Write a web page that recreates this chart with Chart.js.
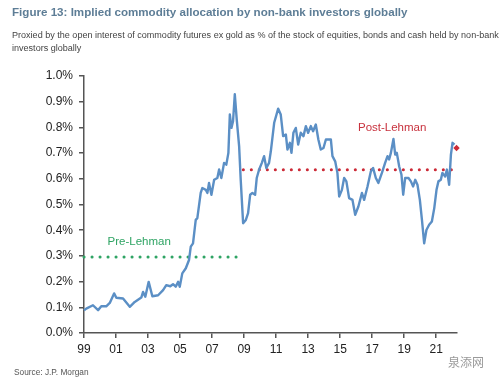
<!DOCTYPE html>
<html>
<head>
<meta charset="utf-8">
<script src="https://cdn.jsdelivr.net/npm/chart.js@4.4.1/dist/chart.umd.min.js"></script>
<style>
  html, body { margin: 0; padding: 0; background: #ffffff; }
  #wrap { position: relative; width: 500px; height: 382px; overflow: hidden; font-family: "Liberation Sans", Arial, sans-serif; }
  #c { position: absolute; left: 0; top: 0; }
  .t { position: absolute; white-space: nowrap; }
  #title { left: 12px; top: 5px; font-size: 11.6px; line-height: 14px; font-weight: bold; color: #5d7d96; }
  #sub { left: 12px; top: 29px; font-size: 9.05px; line-height: 13px; color: #444; }
  #src { left: 14px; top: 367px; font-size: 8.3px; line-height: 11px; color: #555; }
  #wm { left: 448px; top: 355px; font-size: 12px; line-height: 14px; color: #9a9a9a; font-family: "Noto Sans CJK SC", sans-serif; }
</style>
</head>
<body>
<div id="wrap">
  <canvas id="c" width="500" height="382"></canvas>
  <div class="t" id="title">Figure 13: Implied commodity allocation by non-bank investors globally</div>
  <div class="t" id="sub">Proxied by the open interest of commodity futures ex gold as % of the stock of equities, bonds and cash held by non-bank<br>investors globally</div>
  <div class="t" id="src">Source: J.P. Morgan</div>
  <div class="t" id="wm">泉添网</div>
</div>
<script>
// ---- data ----
const years = [
  1999.00,1999.14,1999.56,1999.88,2000.08,2000.39,2000.61,2000.88,2001.02,2001.44,
  2001.86,2002.17,2002.58,2002.69,2002.83,2003.04,2003.27,2003.63,2003.94,2004.14,
  2004.39,2004.56,2004.73,2004.88,2004.98,2005.14,2005.36,2005.56,2005.67,2005.81,
  2005.98,2006.08,2006.29,2006.39,2006.61,2006.71,2006.81,2006.96,2007.13,2007.33,
  2007.44,2007.58,2007.75,2007.89,2008.02,2008.11,2008.21,2008.31,2008.42,2008.54,
  2008.69,2008.79,2008.94,2009.11,2009.25,2009.38,2009.52,2009.69,2009.79,2009.94,
  2010.11,2010.25,2010.39,2010.56,2010.67,2010.88,2011.13,2011.29,2011.44,2011.61,
  2011.71,2011.86,2011.96,2012.08,2012.23,2012.38,2012.54,2012.71,2012.86,2013.00,
  2013.17,2013.31,2013.48,2013.64,2013.79,2013.96,2014.11,2014.31,2014.42,2014.52,
  2014.69,2014.83,2014.94,2015.11,2015.25,2015.39,2015.56,2015.77,2015.94,2016.14,
  2016.36,2016.50,2016.71,2016.92,2017.06,2017.23,2017.39,2017.61,2017.81,2017.96,
  2018.06,2018.17,2018.33,2018.44,2018.54,2018.69,2018.83,2018.94,2019.06,2019.27,
  2019.42,2019.56,2019.69,2019.83,2019.98,2020.11,2020.25,2020.39,2020.56,2020.73,
  2020.88,2021.02,2021.14,2021.29,2021.39,2021.56,2021.67,2021.81,2021.92,2022.02,
  2022.14
];
const allocation = [
  0.088,0.095,0.108,0.089,0.104,0.104,0.117,0.154,0.137,0.134,
  0.102,0.121,0.138,0.160,0.141,0.199,0.143,0.147,0.167,0.186,
  0.182,0.190,0.180,0.199,0.180,0.232,0.252,0.284,0.336,0.349,
  0.440,0.447,0.545,0.564,0.557,0.545,0.584,0.538,0.596,0.603,
  0.636,0.603,0.662,0.655,0.701,0.850,0.798,0.824,0.929,0.831,
  0.727,0.596,0.427,0.440,0.466,0.538,0.545,0.538,0.603,0.636,
  0.662,0.688,0.642,0.662,0.707,0.818,0.873,0.850,0.766,0.772,
  0.714,0.740,0.701,0.779,0.798,0.733,0.779,0.766,0.805,0.779,
  0.805,0.785,0.811,0.753,0.714,0.720,0.753,0.753,0.753,0.688,
  0.668,0.623,0.531,0.557,0.603,0.590,0.525,0.518,0.460,0.492,
  0.545,0.518,0.570,0.629,0.642,0.603,0.584,0.623,0.662,0.688,
  0.675,0.701,0.755,0.694,0.701,0.648,0.616,0.538,0.603,0.603,
  0.590,0.570,0.596,0.577,0.518,0.440,0.349,0.401,0.421,0.434,
  0.486,0.557,0.590,0.596,0.623,0.609,0.636,0.577,0.694,0.740,
  0.733
];
const latestYear = [2022.27];
const latestValue = [0.720];

const preLehmanYears = [1999.0, 2008.85];
const preLehmanAvg = [0.296, 0.296];
const postLehmanYears = [2008.95, 2022.15];
const postLehmanAvg = [0.635, 0.635];

const annotationText = ["Pre-Lehman", "Post-Lehman"];
const annotationYear = [2002.45, 2018.25];
const annotationValue = [0.354, 0.80];

const xTickYears = [1999,2001,2003,2005,2007,2009,2011,2013,2015,2017,2019,2021];
const xTickLabels = ["99","01","03","05","07","09","11","13","15","17","19","21"];
const yTickValues = [0,0.1,0.2,0.3,0.4,0.5,0.6,0.7,0.8,0.9,1.0];
const yTickLabels = ["0.0%","0.1%","0.2%","0.3%","0.4%","0.5%","0.6%","0.7%","0.8%","0.9%","1.0%"];

// ---- build ----
const pts = (xs, ys) => xs.map((x, i) => ({ x: x, y: ys[i] }));
const GREEN = '#2fa464', RED = '#cc2b38', BLUE = '#5b8fc5';
const annColors = [GREEN, '#c8323e'];

const annotationPlugin = {
  id: 'lehmanLabels',
  afterDatasetsDraw(chart) {
    const { ctx, scales } = chart;
    ctx.save();
    ctx.font = '11.5px "Liberation Sans", Arial, sans-serif';
    ctx.textAlign = 'center';
    ctx.textBaseline = 'middle';
    annotationText.forEach((t, i) => {
      ctx.fillStyle = annColors[i];
      ctx.fillText(t, scales.x.getPixelForValue(annotationYear[i]), scales.y.getPixelForValue(annotationValue[i]));
    });
    ctx.restore();
  }
};

new Chart(document.getElementById('c'), {
  type: 'line',
  data: {
    datasets: [
      { data: pts(preLehmanYears, preLehmanAvg), borderColor: GREEN, borderWidth: 3,
        borderDash: [0.1, 7.9], borderCapStyle: 'round', pointRadius: 0, order: 2 },
      { data: pts(postLehmanYears, postLehmanAvg), borderColor: RED, borderWidth: 3,
        borderDash: [0.1, 7.9], borderCapStyle: 'round', pointRadius: 0, order: 2 },
      { data: pts(years, allocation), borderColor: BLUE, borderWidth: 2.4, pointRadius: 0,
        tension: 0, borderJoinStyle: 'round', order: 1 },
      { data: pts(latestYear, latestValue), showLine: false, pointStyle: 'rectRot', pointRadius: 3.2,
        pointBackgroundColor: RED, pointBorderColor: RED, pointBorderWidth: 0, order: 0 }
    ]
  },
  options: {
    responsive: false,
    animation: false,
    devicePixelRatio: 1,
    clip: false,
    layout: { padding: { top: 76, right: 43, bottom: 19, left: 0 } },
    plugins: { legend: { display: false }, tooltip: { enabled: false } },
    scales: {
      x: {
        type: 'linear', min: 1999, max: 2022.3,
        afterBuildTicks: (s) => { s.ticks = xTickYears.map(v => ({ value: v })); },
        afterFit: (s) => { s.height = 30; },
        ticks: {
          autoSkip: false, maxRotation: 0, padding: 4, color: '#222',
          font: { size: 12, family: '"Liberation Sans", Arial, sans-serif' },
          callback: (v) => { const i = xTickYears.indexOf(v); return i >= 0 ? xTickLabels[i] : ''; }
        },
        grid: { drawOnChartArea: false, drawTicks: true, tickLength: 5, color: '#555', lineWidth: 1.5 },
        border: { display: true, color: '#555', width: 1.5 }
      },
      y: {
        type: 'linear', min: 0, max: 1.0,
        afterBuildTicks: (s) => { s.ticks = yTickValues.map(v => ({ value: v })); },
        afterFit: (s) => { s.width = 84; },
        ticks: {
          autoSkip: false, padding: 6, color: '#222',
          font: { size: 12, family: '"Liberation Sans", Arial, sans-serif' },
          callback: (v) => { const i = yTickValues.findIndex(t => Math.abs(t - v) < 1e-9); return i >= 0 ? yTickLabels[i] : ''; }
        },
        grid: { drawOnChartArea: false, drawTicks: true, tickLength: 5, color: '#555', lineWidth: 1.5 },
        border: { display: true, color: '#555', width: 1.5 }
      }
    }
  },
  plugins: [annotationPlugin]
});
</script>
</body>
</html>
